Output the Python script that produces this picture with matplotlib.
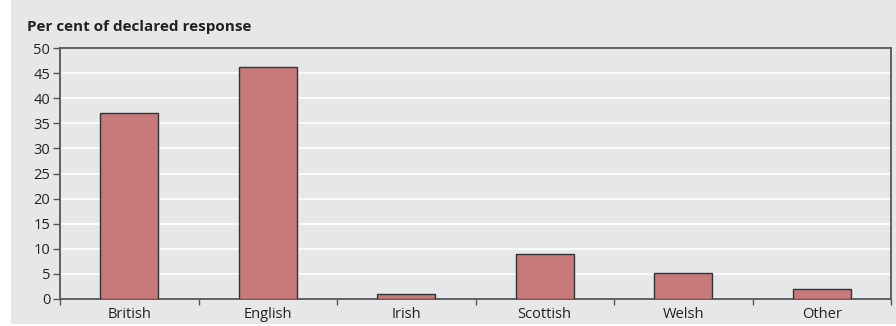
import matplotlib
matplotlib.use("Agg")
import matplotlib.pyplot as plt
from matplotlib.patches import Rectangle
import numpy as np

categories = ["British", "English", "Irish", "Scottish", "Welsh", "Other"]
values = [37.0, 46.3, 0.9, 8.9, 5.1, 1.9]
yticks = [0, 5, 10, 15, 20, 25, 30, 35, 40, 45, 50]

plt.rcParams['font.family'] = ['Open Sans', 'DejaVu Sans']

W, H = 896, 326
fig = plt.figure(figsize=(W/100, H/100), dpi=100, facecolor='white')
bg = '#e6e7e8'
fig.patches.append(Rectangle((11/W, 2/H), 1 - 11/W, 1 - 2/H, transform=fig.transFigure,
                             facecolor=bg, edgecolor='none', zorder=-5))

ax = fig.add_axes([60/W, (H-299)/H, (891-60)/W, (299-48)/H])
ax.set_zorder(2)
ax.set_facecolor(bg)
x = np.arange(len(categories))
ax.bar(x, values, width=0.42, color='#c87a7a', edgecolor='#333333', linewidth=1.0, zorder=3)
ax.set_xlim(-0.5, len(categories) - 0.5)
ax.set_ylim(0, 50)
ax.set_yticks(yticks)
ax.set_yticklabels([str(v) for v in yticks])
ax.yaxis.grid(True, color='white', linewidth=1.2, zorder=1)
ax.set_axisbelow(True)

ax.set_xticks(np.arange(-0.5, len(categories)), minor=False)
ax.set_xticklabels([])
ax.set_xticks(x, minor=True)
ax.set_xticklabels(categories, minor=True)
ax.tick_params(axis='x', which='major', length=4, width=1, color='#555555', direction='out')
ax.tick_params(axis='x', which='minor', length=0, labelsize=10.5, pad=6, labelcolor='#222222')
ax.tick_params(axis='y', length=5, width=1, color='#555555', labelsize=10.5, pad=2, labelcolor='#222222')

for s in ax.spines.values():
    s.set_color('#555555')
    s.set_linewidth(1.3)

fig.text(27/W, 1 - 31/H, "Per cent of declared response", fontsize=11, fontweight='bold',
         color='#222222', ha='left', va='baseline', zorder=3)

fig.savefig("out.png", dpi=100, facecolor='white')
